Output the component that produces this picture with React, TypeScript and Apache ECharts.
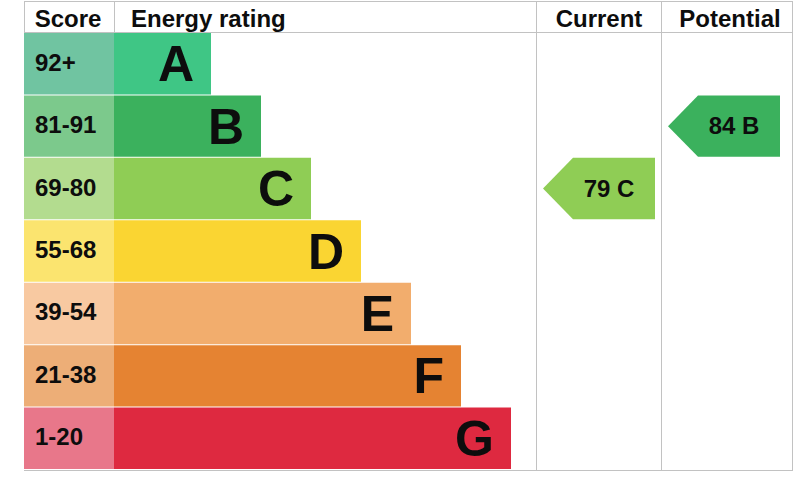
import React, { useEffect, useRef } from "react";
import * as echarts from "echarts";

const bands = ["A", "B", "C", "D", "E", "F", "G"];
const scoreRanges = ["92+", "81-91", "69-80", "55-68", "39-54", "21-38", "1-20"];
const bandMinScore = [92, 81, 69, 55, 39, 21, 1];
const barSteps = [1, 2, 3, 4, 5, 6, 7];
const currentScore = 79;
const potentialScore = 84;
const headers = ["Score", "Energy rating", "Current", "Potential"];

const mainColors = ["#3fc685", "#3bb15d", "#8fcd55", "#fad532", "#f2ad6d", "#e58332", "#de2940"];
const lightColors = ["#70c4a1", "#7cc98c", "#b3dc8f", "#fbe46f", "#f8c9a1", "#edae77", "#e8778a"];

const FONT = '"Liberation Sans", Arial, sans-serif';
const TEXT = "#0d0d0d";
const LINE = "#c2c2c2";

function bandOf(score: number): number {
  for (let i = 0; i < bandMinScore.length; i++) {
    if (score >= bandMinScore[i]) return i;
  }
  return bandMinScore.length - 1;
}

export default function App() {
  const ref = useRef<HTMLDivElement>(null);

  useEffect(() => {
    if (!ref.current) return;
    const chart = echarts.init(ref.current, null, { renderer: "svg" });

    const gridTop = 33;
    const gridBottom = 13;
    const grids = [
      { left: 24, width: 90 },
      { left: 114, width: 422 },
      { left: 536, width: 125 },
      { left: 661, width: 131 },
    ].map((g) => ({ ...g, top: gridTop, bottom: gridBottom, outerBoundsMode: "none", containLabel: false }));

    const xRanges = [
      { min: 0, max: 1 },
      { min: -0.94, max: 7.5 },
      { min: 0, max: 1 },
      { min: 0, max: 1 },
    ];

    const xAxis = xRanges.map((r, i) => ({ type: "value", gridIndex: i, min: r.min, max: r.max, show: false }));
    const yAxis = xRanges.map((_, i) => ({ type: "category", gridIndex: i, data: bands, inverse: true, show: false }));

    const scoreSeries = {
      type: "custom",
      xAxisIndex: 0,
      yAxisIndex: 0,
      encode: { x: 0, y: 1 },
      data: bands.map((_, i) => [1, i]),
      renderItem: (params: any, api: any) => {
        const idx = api.value(1);
        const [x0, cy] = api.coord([0, idx]);
        const [x1] = api.coord([1, idx]);
        const h = api.size([0, 1])[1];
        return {
          type: "group",
          children: [
            { type: "rect", shape: { x: x0, y: cy - h / 2, width: x1 - x0, height: h - 1 }, style: { fill: lightColors[idx] } },
            {
              type: "text",
              style: {
                text: scoreRanges[idx], x: x0 + 11, y: cy - 2, fill: TEXT,
                font: `bold 24px ${FONT}`, align: "left", verticalAlign: "middle",
                textAlign: "left", textVerticalAlign: "middle",
              },
            },
          ],
        };
      },
    };

    const ratingSeries = {
      type: "custom",
      xAxisIndex: 1,
      yAxisIndex: 1,
      encode: { x: 0, y: 1 },
      data: barSteps.map((v, i) => [v, i]),
      renderItem: (params: any, api: any) => {
        const idx = api.value(1);
        const len = api.value(0);
        const x0 = params.coordSys.x;
        const [x1, cy] = api.coord([len, idx]);
        const h = api.size([0, 1])[1];
        return {
          type: "group",
          children: [
            { type: "rect", shape: { x: x0, y: cy - h / 2, width: x1 - x0, height: h - 1 }, style: { fill: mainColors[idx] } },
            {
              type: "text",
              style: {
                text: bands[idx], x: x1 - 17, y: cy, fill: TEXT,
                font: `bold 50px ${FONT}`, align: "right", verticalAlign: "middle",
                textAlign: "right", textVerticalAlign: "middle",
              },
            },
          ],
        };
      },
    };

    const arrowSeries = (gridIdx: number, score: number) => ({
      type: "custom",
      xAxisIndex: gridIdx,
      yAxisIndex: gridIdx,
      encode: { x: 0, y: 1 },
      data: [[score, bandOf(score)]],
      renderItem: (params: any, api: any) => {
        const sc = api.value(0);
        const idx = api.value(1);
        const [, cy] = api.coord([0, idx]);
        const h = api.size([0, 1])[1];
        const tip = params.coordSys.x + 7;
        const top = cy - h / 2;
        const bot = cy + h / 2 - 1;
        return {
          type: "group",
          children: [
            {
              type: "polygon",
              shape: { points: [[tip, cy - 0.5], [tip + 30, top], [tip + 112, top], [tip + 112, bot], [tip + 30, bot]] },
              style: { fill: mainColors[idx] },
            },
            {
              type: "text",
              style: {
                text: `${sc} ${bands[idx]}`, x: tip + 66, y: cy - 1, fill: TEXT,
                font: `bold 24px ${FONT}`, align: "center", verticalAlign: "middle",
                textAlign: "center", textVerticalAlign: "middle",
              },
            },
          ],
        };
      },
    });

    const hLine = (y: number, x1: number, x2: number) => ({
      type: "line", silent: true, z: 10,
      shape: { x1, y1: y, x2, y2: y },
      style: { stroke: LINE, lineWidth: 1 },
    });
    const vLine = (x: number, y1: number, y2: number) => ({
      type: "line", silent: true, z: 10,
      shape: { x1: x, y1, x2: x, y2 },
      style: { stroke: LINE, lineWidth: 1 },
    });
    const headerText = (text: string, x: number, align: string) => ({
      type: "text", z: 11,
      x, y: 18,
      style: {
        text, fill: TEXT, font: `bold 24px ${FONT}`,
        align, verticalAlign: "middle", textAlign: align, textVerticalAlign: "middle",
      },
    });

    chart.setOption({
      animation: false,
      backgroundColor: "#ffffff",
      grid: grids,
      xAxis,
      yAxis,
      series: [scoreSeries, ratingSeries, arrowSeries(2, currentScore), arrowSeries(3, potentialScore)],
      graphic: [
        hLine(1.5, 24, 792.5),
        hLine(32.5, 24, 792.5),
        hLine(470.5, 24, 792.5),
        vLine(24.5, 1, 33),
        vLine(114.5, 1, 33),
        vLine(536.5, 1, 471),
        vLine(661.5, 1, 471),
        vLine(792.5, 1, 471),
        headerText(headers[0], 68, "center"),
        headerText(headers[1], 131, "left"),
        headerText(headers[2], 599, "center"),
        headerText(headers[3], 730, "center"),
      ],
    });

    return () => chart.dispose();
  }, []);

  return <div ref={ref} style={{ position: "fixed", left: 0, top: 0, width: 810, height: 483 }} />;
}
